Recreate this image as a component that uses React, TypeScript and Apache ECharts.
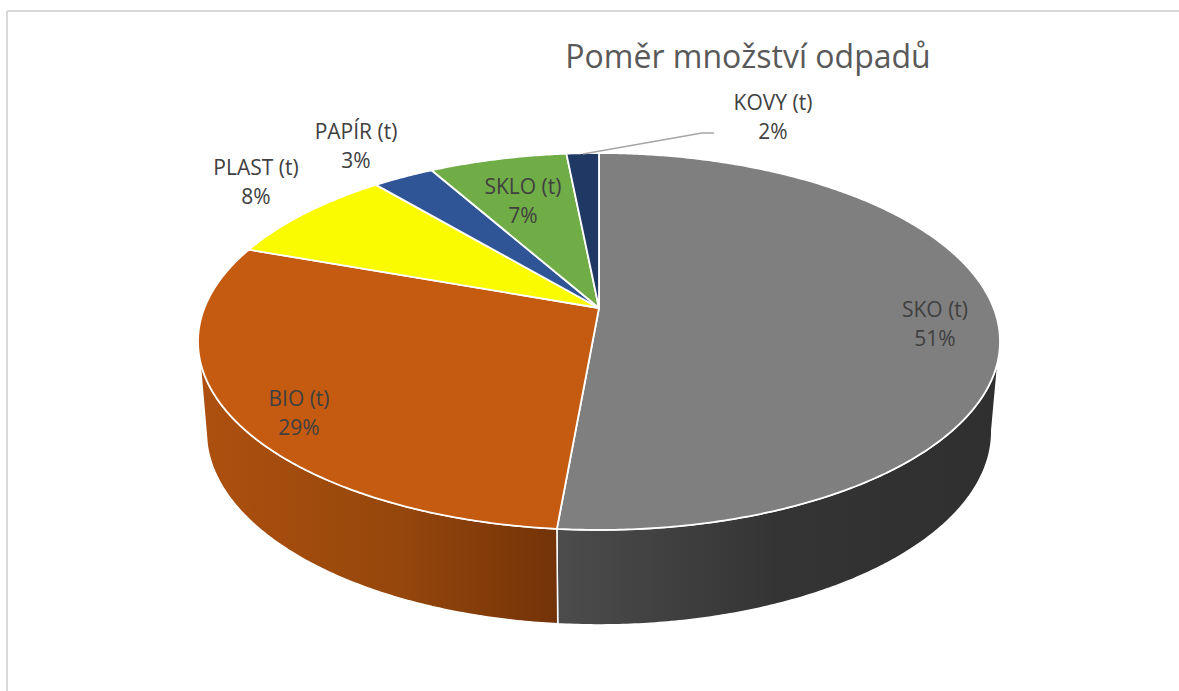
import React, { useEffect, useRef } from "react";
import * as echarts from "echarts";

const categories = ["SKO (t)", "BIO (t)", "PLAST (t)", "PAPÍR (t)", "SKLO (t)", "KOVY (t)"];
const shares = [51.4, 29.1, 8.4, 2.95, 6.6, 1.55];
const topColors = ["#7f7f7f", "#c55a11", "#fbfb00", "#2f5597", "#70ad47", "#1f3864"];
const wallStops = [
  [[0, "#4c4c4c"], [0.5, "#343434"], [1, "#2f2f2f"]],
  [[0, "#ad500f"], [0.55, "#96470c"], [1, "#733308"]],
];
const labelAnchors = [
  [935, 323],
  [299, 412],
  [256, 181],
  [356, 145],
  [523, 200],
  [773, 116],
];

const TOP = { cx: 599, cy: 308, a: 394.6, b: 182.5, k: 0.1777 };
const BASE = { cx: 599, cy: 397, a: 386.5, b: 187.4, k: 0.1777 };
const VISIBLE_TOP: [number, number] = [105.5, 254.5];
const VISIBLE_BASE: [number, number] = [100, 256];

const total = shares.reduce((s, v) => s + v, 0);
const startDeg = (i: number) => (shares.slice(0, i).reduce((s, v) => s + v, 0) / total) * 360;

function project(e: typeof TOP, deg: number): [number, number] {
  const t = (deg * Math.PI) / 180;
  const u = Math.sin(t);
  const v = -Math.cos(t);
  const w = 1 / (1 - e.k * v);
  return [e.cx + e.a * u * w, e.cy + e.b * v * w];
}

function arc(e: typeof TOP, from: number, to: number): [number, number][] {
  const n = Math.max(2, Math.ceil(Math.abs(to - from) / 0.5));
  const pts: [number, number][] = [];
  for (let i = 0; i <= n; i++) pts.push(project(e, from + ((to - from) * i) / n));
  return pts;
}

function renderWall(params: any, api: any) {
  const i = params.dataIndex;
  const a0 = startDeg(i);
  const a1 = a0 + (api.value(0) / total) * 360;
  const stops = wallStops[i];
  if (!stops) return { type: "group", children: [] };
  const t0 = Math.max(a0, VISIBLE_TOP[0]);
  const t1 = Math.min(a1, VISIBLE_TOP[1]);
  const b0 = Math.max(a0, VISIBLE_BASE[0]);
  const b1 = Math.min(a1, VISIBLE_BASE[1]);
  const points = [...arc(TOP, t0, t1), ...arc(BASE, b1, b0)];
  const xs = points.map((p) => p[0]);
  const fill = new echarts.graphic.LinearGradient(
    Math.min(...xs),
    0,
    Math.max(...xs),
    0,
    (stops as any[]).map(([offset, color]) => ({ offset, color })),
    true
  );
  return {
    type: "polygon",
    shape: { points },
    style: { fill, stroke: "#ffffff", lineWidth: 1.5 },
  };
}

function renderTop(params: any, api: any) {
  const i = params.dataIndex;
  const a0 = startDeg(i);
  const a1 = a0 + (api.value(0) / total) * 360;
  return {
    type: "polygon",
    shape: { points: [[TOP.cx, TOP.cy], ...arc(TOP, a0, a1)] },
    style: { fill: topColors[i], stroke: "#ffffff", lineWidth: 1.8, lineJoin: "round" },
  };
}

function renderLabel(params: any, api: any) {
  const i = params.dataIndex;
  const pct = Math.round((api.value(0) / total) * 100);
  return {
    type: "text",
    x: labelAnchors[i][0],
    y: labelAnchors[i][1],
    style: {
      text: `${categories[i]}\n${pct}%`,
      fill: "#404040",
      font: '21px "Open Sans", "Noto Sans", sans-serif',
      lineHeight: 29,
      align: "center",
      verticalAlign: "middle",
    },
  };
}

export default function App() {
  const ref = useRef<HTMLDivElement>(null);
  useEffect(() => {
    const chart = echarts.init(ref.current!, undefined, { renderer: "svg" });
    const seriesData = shares.map((v) => [v]);
    const common = {
      type: "custom",
      coordinateSystem: "none",
      data: seriesData,
      silent: true,
      clip: false,
    };
    chart.setOption({
      animation: false,
      backgroundColor: "#ffffff",
      title: {
        text: "Poměr množství odpadů",
        left: 743,
        top: 34,
        textAlign: "center",
        textStyle: {
          color: "#595959",
          fontFamily: '"Open Sans", "Noto Sans", sans-serif',
          fontSize: 32,
          fontWeight: "normal",
        },
      },
      graphic: [
        { type: "line", shape: { x1: 7, y1: 11, x2: 1179, y2: 11 }, style: { stroke: "#d9d9d9", lineWidth: 2 } },
        { type: "line", shape: { x1: 7, y1: 11, x2: 7, y2: 691 }, style: { stroke: "#d9d9d9", lineWidth: 2 } },
        {
          type: "polyline",
          shape: { points: [[583, 154], [702, 133], [714, 133]] },
          style: { stroke: "#a6a6a6", lineWidth: 1.5, fill: "none" },
          z: 10,
        },
      ],
      series: [
        { ...common, z: 1, renderItem: renderWall },
        { ...common, z: 2, renderItem: renderTop },
        { ...common, z: 3, renderItem: renderLabel },
      ],
    });
    return () => chart.dispose();
  }, []);
  return (
    <div
      ref={ref}
      style={{ position: "fixed", left: 0, top: 0, width: 1179, height: 691, background: "#fff" }}
    />
  );
}
